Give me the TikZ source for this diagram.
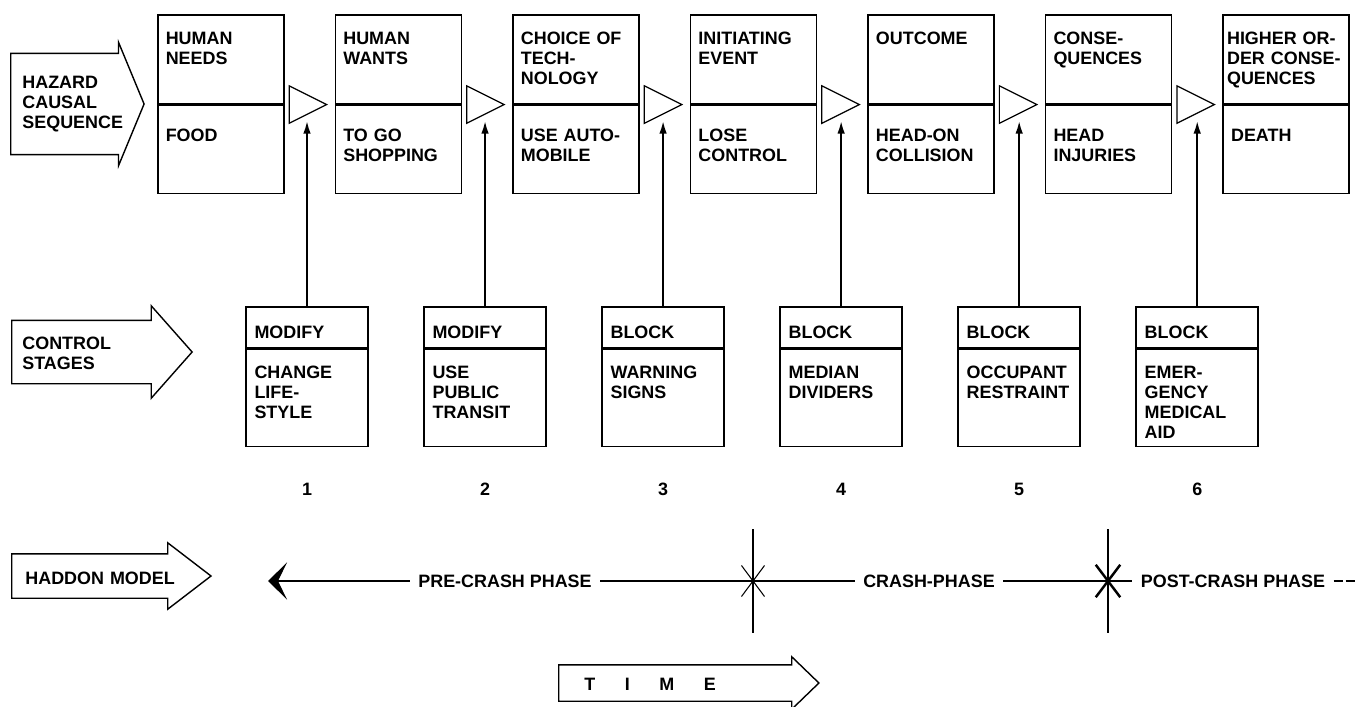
\documentclass[tikz,border=0pt]{standalone}
\usepackage{fontspec}
\setmainfont{Liberation Sans}
\usetikzlibrary{arrows.meta,positioning}
\usetikzlibrary{shapes.geometric,shapes.arrows,shapes.misc}
\hyphenpenalty=10000

\tikzset{
  caps/.style={font=\bfseries\fontsize{10.2}{11.4}\selectfont},
  seqtop/.style={caps, draw, line width=0.9pt, align=left, text width=2.2cm,
    inner xsep=0.16cm, inner ysep=0pt, text height=0.6cm, text depth=1.18cm},
  seqbot/.style={seqtop, text height=0.72cm, text depth=1.04cm},
  ctltop/.style={caps, draw, line width=0.9pt, align=left, text width=2.1cm,
    inner xsep=0.17cm, inner ysep=0pt, text height=0.64cm, text depth=0.18cm},
  ctlbot/.style={ctltop, text height=0.58cm, text depth=1.36cm},
  gate/.style={draw, line width=0.7pt, isosceles triangle, isosceles triangle stretches,
    minimum width=0.75cm, minimum height=0.75cm, inner sep=0pt},
  fat/.style={caps, draw, line width=0.8pt, single arrow, align=left, anchor=tail,
    inner ysep=0pt},
  lift/.style={line width=1.2pt, -{Latex[length=0.26cm,width=0.15cm]}, shorten >=0.32cm},
  phase/.style={caps, inner xsep=0.16cm},
  cross/.style={draw, cross out, minimum width=0.44cm, minimum height=0.6cm, inner sep=0pt}
}

\begin{document}
\begin{tikzpicture}[x=0.02cm, y=-0.02cm, line width=0.6pt]
\useasboundingbox (0,0) rectangle (1367,707);

% row 1: hazard causal sequence
\node[fat, text width=1.78cm, inner xsep=0.22cm, text height=0.69cm, text depth=1.31cm,
  single arrow head extend=0.22cm, single arrow tip angle=135] (hcs) at (10,104)
  {HAZARD\\CAUSAL\\SEQUENCE};

\node[seqtop, anchor=north west] (n1) at (157,14) {HUMAN\\NEEDS};
\node[seqbot, below=0pt of n1] (s1) {FOOD};

\node[seqtop, right=1cm of n1] (n2) {HUMAN\\WANTS};
\node[seqbot, below=0pt of n2] (s2) {TO GO\\SHOPPING};

\node[seqtop, right=1cm of n2] (n3) {CHOICE OF\\TECH-\\NOLOGY};
\node[seqbot, below=0pt of n3] (s3) {USE AUTO-\\MOBILE};

\node[seqtop, right=1cm of n3] (n4) {INITIATING\\EVENT};
\node[seqbot, below=0pt of n4] (s4) {LOSE\\CONTROL};

\node[seqtop, right=1cm of n4] (n5) {OUTCOME};
\node[seqbot, below=0pt of n5] (s5) {HEAD-ON\\COLLISION};

\node[seqtop, right=1cm of n5] (n6) {CONSE-\\QUENCES};
\node[seqbot, below=0pt of n6] (s6) {HEAD\\INJURIES};

\node[seqtop, right=1cm of n6, text width=2.36cm, inner xsep=0.08cm] (n7)
  {HIGHER OR-\\DER CONSE-\\QUENCES};
\node[seqbot, below=0pt of n7] (s7) {DEATH};

\node[gate, right=0.08cm of n1.south east] (t1) {};
\node[gate, right=0.08cm of n2.south east] (t2) {};
\node[gate, right=0.08cm of n3.south east] (t3) {};
\node[gate, right=0.08cm of n4.south east] (t4) {};
\node[gate, right=0.08cm of n5.south east] (t5) {};
\node[gate, right=0.08cm of n6.south east] (t6) {};

% row 2: control stages
\node[fat, text width=2.62cm, inner xsep=0.2cm, text height=0.57cm, text depth=0.67cm,
  single arrow head extend=0.29cm, single arrow tip angle=97] (cst) at (11,352)
  {CONTROL\\STAGES};

\node[ctltop, anchor=north] (c1) at (307,306) {MODIFY};
\node[ctlbot, below=0pt of c1] (k1) {CHANGE\\LIFE-\\STYLE};

\node[ctltop, right=1.09cm of c1] (c2) {MODIFY};
\node[ctlbot, below=0pt of c2] (k2) {USE\\PUBLIC\\TRANSIT};

\node[ctltop, right=1.09cm of c2] (c3) {BLOCK};
\node[ctlbot, below=0pt of c3] (k3) {WARNING\\SIGNS};

\node[ctltop, right=1.09cm of c3] (c4) {BLOCK};
\node[ctlbot, below=0pt of c4] (k4) {MEDIAN\\DIVIDERS};

\node[ctltop, right=1.09cm of c4] (c5) {BLOCK};
\node[ctlbot, below=0pt of c5] (k5) {OCCUPANT\\RESTRAINT};

\node[ctltop, right=1.09cm of c5] (c6) {BLOCK};
\node[ctlbot, below=0pt of c6] (k6) {EMER-\\GENCY\\MEDICAL\\AID};

\draw[lift] (c1) -- (c1 |- t1);
\draw[lift] (c2) -- (c2 |- t2);
\draw[lift] (c3) -- (c3 |- t3);
\draw[lift] (c4) -- (c4 |- t4);
\draw[lift] (c5) -- (c5 |- t5);
\draw[lift] (c6) -- (c6 |- t6);

\node[caps, below=0.59cm of k1] (m1) {1};
\node[caps, below=0.59cm of k2] (m2) {2};
\node[caps, below=0.59cm of k3] (m3) {3};
\node[caps, below=0.59cm of k4] (m4) {4};
\node[caps, below=0.59cm of k5] (m5) {5};
\node[caps, below=0.59cm of k6] (m6) {6};

% row 3: haddon model
\node[fat, text width=2.86cm, inner xsep=0.26cm, text height=0.59cm, text depth=0.27cm,
  single arrow head extend=0.22cm, single arrow tip angle=75] (hdm) at (11,576)
  {\mbox{HADDON MODEL}};

\coordinate (hbeg) at (268,581);
\node[phase] (pre) at (505,581) {PRE-CRASH PHASE};
\node[cross] (x1) at (753,581) {};
\node[phase] (crash) at (929,581) {CRASH-PHASE};
\node[cross, line width=1.4pt] (x2) at (1108,581) {};
\node[phase] (post) at (1233,581) {POST-CRASH PHASE};
\coordinate (hend) at (1355,581);

\draw[-{Stealth[length=0.38cm,width=0.74cm,inset=0.18cm]}] (pre) -- (hbeg);
\draw (pre) -- (x1.center);
\draw (x1.center) -- (crash);
\draw (crash) -- (x2.center);
\draw (x2.center) -- (post);
\draw[dash pattern=on 0.18cm off 0.06cm] (post) -- (hend);

\draw ([yshift=1.04cm]x1.center) -- ([yshift=-1.04cm]x1.center);
\draw ([yshift=1.04cm]x2.center) -- ([yshift=-1.04cm]x2.center);

% time
\node[fat, text width=3.8cm, inner xsep=0.5cm, text height=0.49cm, text depth=0.21cm,
  single arrow head extend=0.16cm, single arrow tip angle=88] (time) at (558,683)
  {T\hspace{1.65em}I\hspace{1.65em}M\hspace{1.65em}E};

\end{tikzpicture}
\end{document}
